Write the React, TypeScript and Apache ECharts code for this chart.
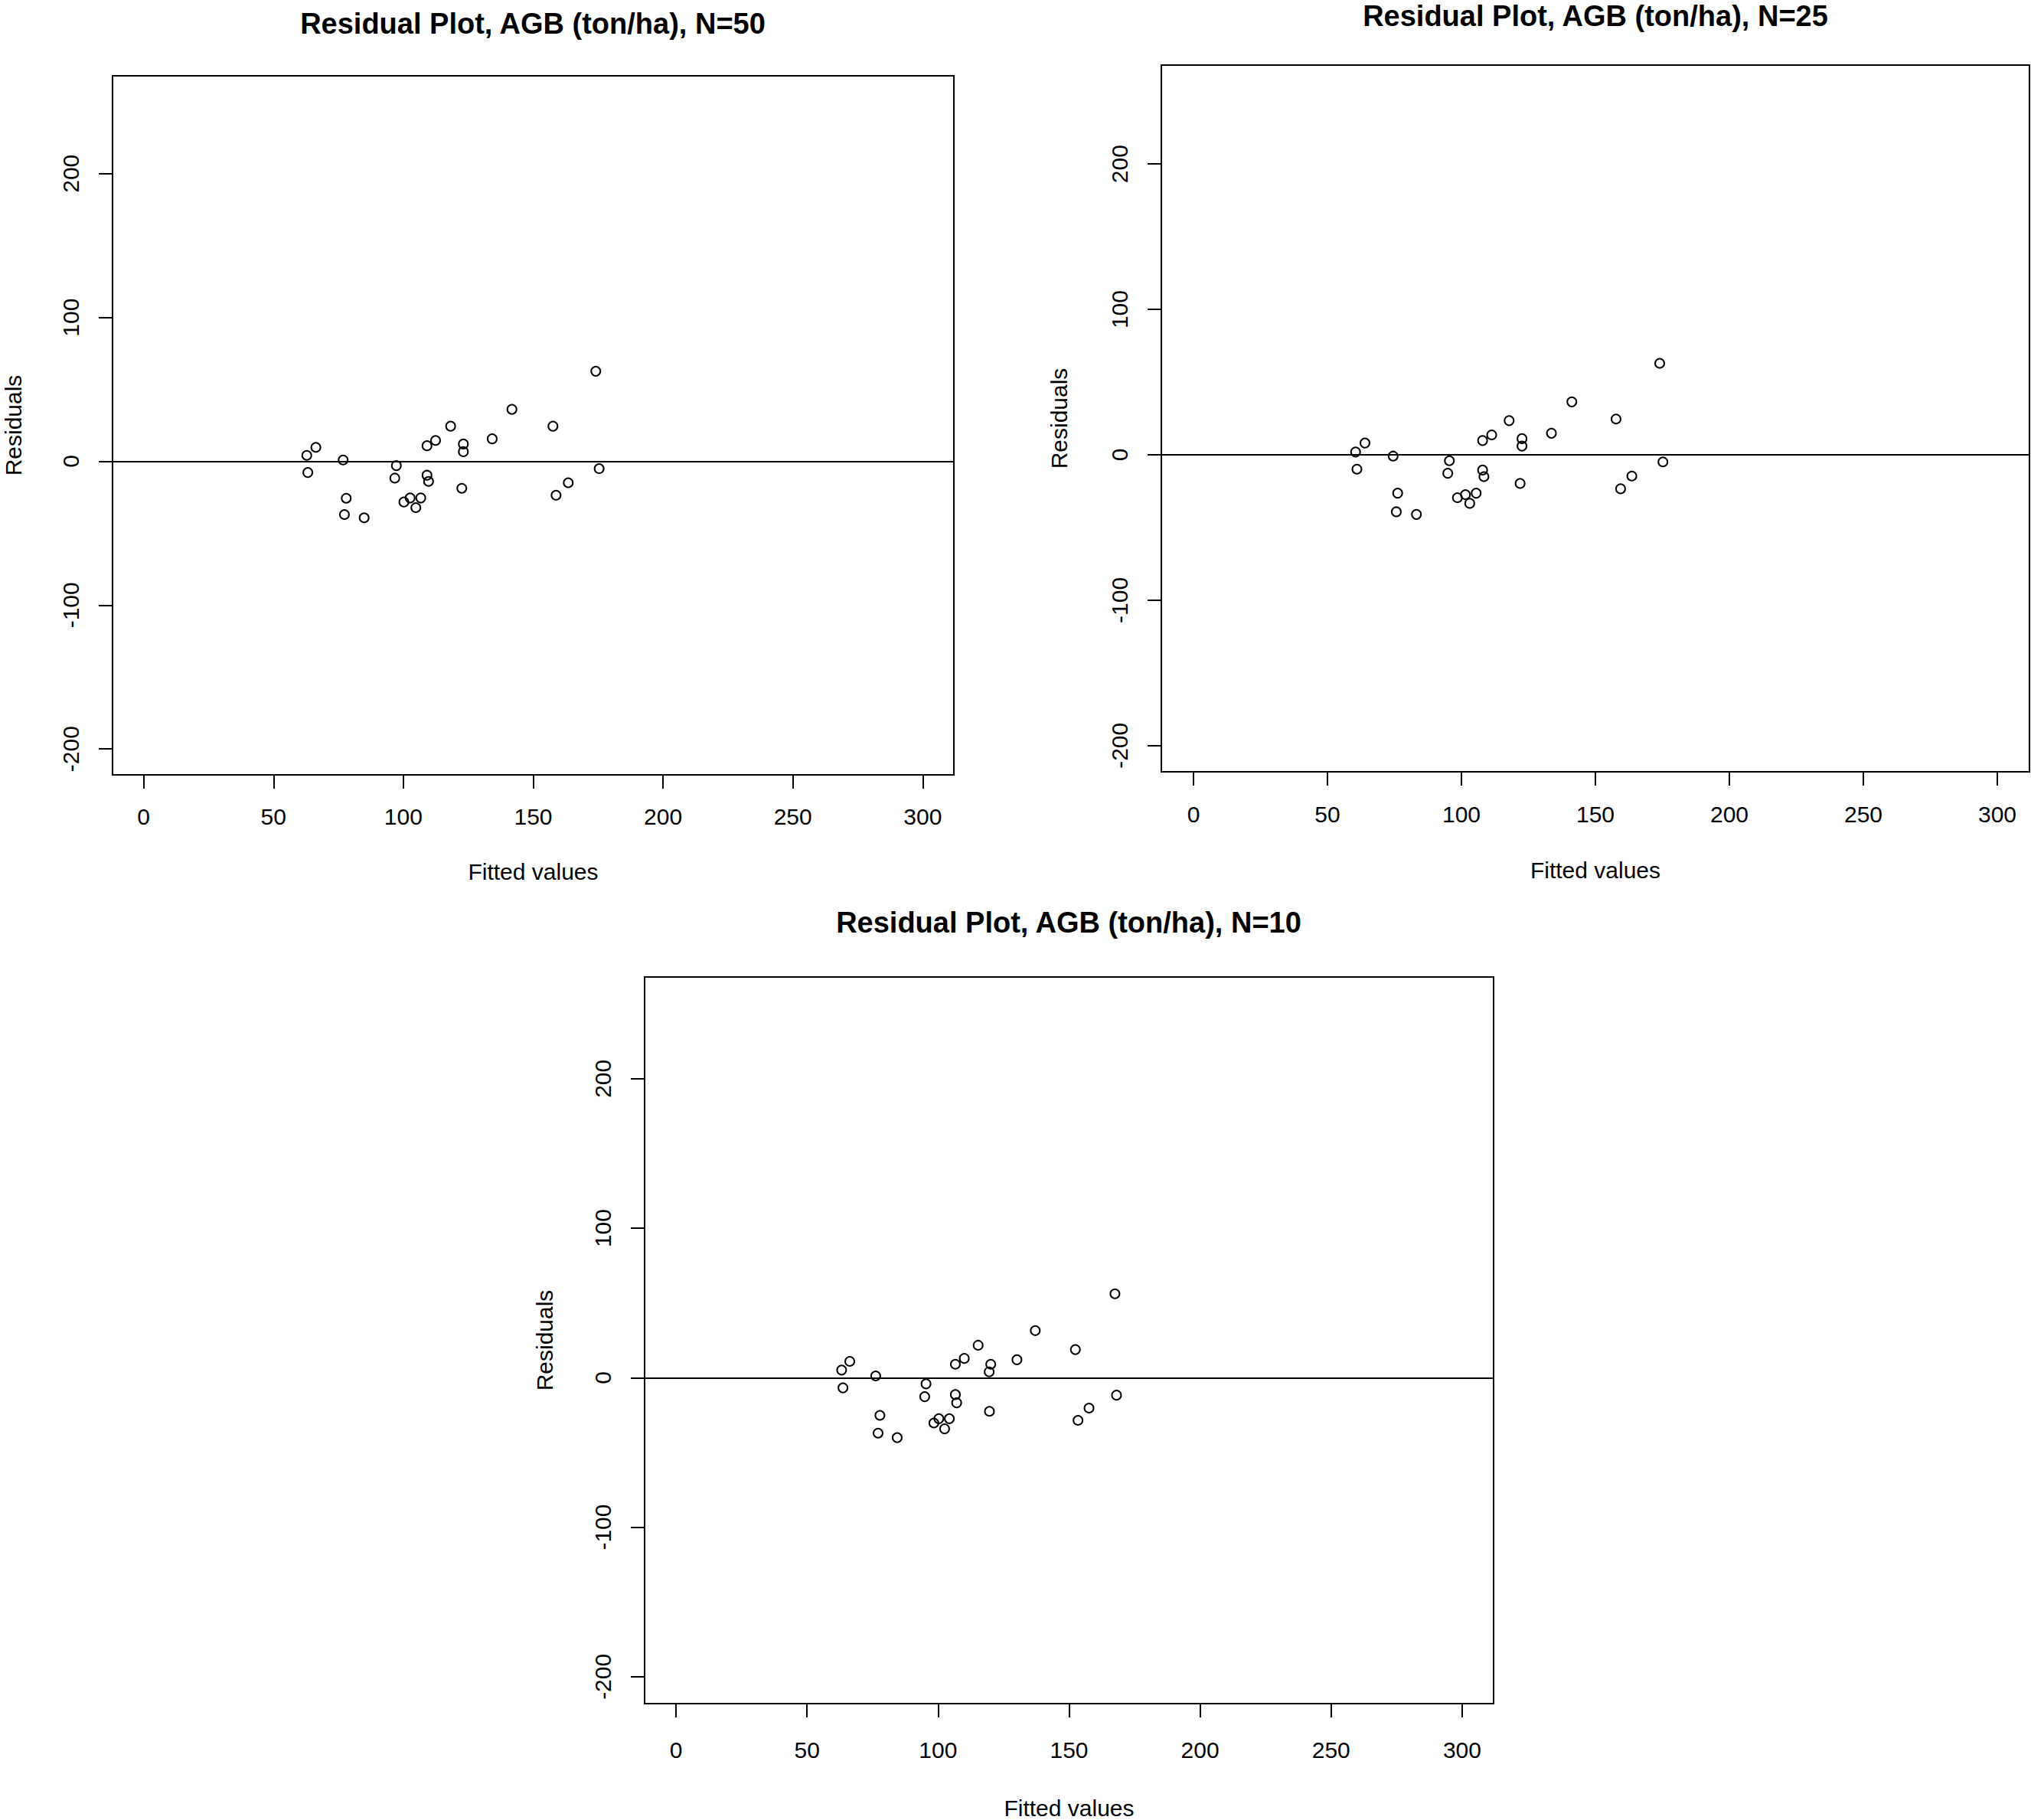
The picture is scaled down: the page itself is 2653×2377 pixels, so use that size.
import React, { useEffect, useRef } from "react";
import * as echarts from "echarts";

// ---- Data ----
const titles = [
  "Residual Plot, AGB (ton/ha), N=50",
  "Residual Plot, AGB (ton/ha), N=25",
  "Residual Plot, AGB (ton/ha), N=10",
];

const xTickValues = [0, 50, 100, 150, 200, 250, 300];
const yTickValues = [-200, -100, 0, 100, 200];

const fittedN50 = [174.1, 141.8, 118.2, 157.6, 134.2, 112.4, 109.1, 123.1, 123.1, 66.3, 62.8, 76.8, 63.2, 97.3, 96.7, 109.1, 109.7, 122.5, 175.4, 163.5, 158.8, 78.0, 77.3, 84.9, 102.6, 106.7, 100.2, 104.8];
const residN50 = [62.6, 36.1, 24.4, 24.4, 15.6, 14.5, 10.8, 12.0, 6.7, 9.7, 4.1, 0.9, -7.8, -3.0, -11.7, -9.7, -14.0, -18.8, -5.1, -14.9, -23.6, -25.7, -37.0, -39.3, -25.5, -25.5, -28.3, -32.2];

const fittedN25 = [174.0, 141.2, 117.8, 157.7, 133.6, 111.3, 107.9, 122.6, 122.6, 64.0, 60.5, 74.5, 61.0, 95.5, 94.9, 107.9, 108.4, 121.9, 175.2, 163.6, 159.4, 76.2, 75.7, 83.2, 101.5, 105.5, 98.5, 103.1];
const residN25 = [62.9, 36.4, 23.5, 24.6, 14.8, 13.7, 9.8, 11.1, 6.0, 8.1, 1.9, -0.9, -9.9, -4.1, -12.7, -10.5, -15.0, -19.7, -4.9, -14.6, -23.4, -26.4, -39.2, -41.0, -27.4, -26.4, -29.5, -33.4];

const fittedN10 = [167.5, 137.1, 115.3, 152.4, 130.1, 110.0, 106.6, 120.1, 119.5, 66.3, 63.2, 76.2, 63.7, 95.4, 94.9, 106.6, 107.1, 119.6, 168.1, 157.6, 153.4, 77.8, 77.1, 84.4, 100.3, 104.3, 98.4, 102.5];
const residN10 = [56.1, 31.5, 21.7, 18.8, 12.0, 12.9, 9.0, 9.0, 3.9, 10.9, 5.1, 1.2, -6.8, -4.1, -12.7, -11.3, -16.8, -22.5, -11.7, -20.3, -28.5, -25.2, -37.1, -40.1, -27.4, -27.4, -30.3, -34.2];

const fittedSets = [fittedN50, fittedN25, fittedN10];
const residSets = [residN50, residN25, residN10];

const X_MIN = -12;
const X_MAX = 312;
const Y_MIN = -218;
const Y_MAX = 268;

// ---- Layout ----
const W = 2653;
const H = 2377;
const FONT = "Liberation Sans, Arial, sans-serif";

const panels = [
  { left: 147, top: 99, width: 1099, height: 913, titleX: 696, titleTop: 12, xNameGap: 111, yNameGap: 115, xLabelMargin: 39 },
  { left: 1517, top: 85, width: 1134, height: 923, titleX: 2084, titleTop: 2, xNameGap: 113, yNameGap: 119, xLabelMargin: 40 },
  { left: 842, top: 1276, width: 1109, height: 958, titleX: 1396, titleTop: 1186, xNameGap: 121, yNameGap: 116, xLabelMargin: 45 },
];

export default function App() {
  const ref = useRef<HTMLDivElement>(null);

  useEffect(() => {
    if (!ref.current) return;
    const chart = echarts.init(ref.current, undefined, { renderer: "svg" });

    const grid = panels.map((p) => ({
      left: p.left,
      top: p.top,
      width: p.width,
      height: p.height,
      show: true,
      borderColor: "#000",
      borderWidth: 2,
      backgroundColor: "transparent",
      containLabel: false,
    }));

    const title = panels.map((p, i) => ({
      text: titles[i],
      left: p.titleX,
      top: p.titleTop,
      textAlign: "center",
      padding: 0,
      textStyle: {
        fontFamily: FONT,
        fontWeight: "bold",
        fontSize: 38,
        lineHeight: 38,
        color: "#000",
      },
    }));

    const xAxis = panels.map((p, i) => ({
      type: "value",
      gridIndex: i,
      min: X_MIN,
      max: X_MAX,
      name: "Fitted values",
      nameLocation: "middle",
      nameGap: p.xNameGap,
      nameTextStyle: { fontFamily: FONT, fontSize: 30, lineHeight: 30, color: "#000" },
      axisLine: { show: false, onZero: false },
      splitLine: { show: false },
      axisTick: {
        show: true,
        inside: false,
        length: 18,
        lineStyle: { color: "#000", width: 2 },
        customValues: xTickValues,
      },
      axisLabel: {
        customValues: xTickValues,
        margin: p.xLabelMargin,
        fontFamily: FONT,
        fontSize: 30,
        lineHeight: 30,
        color: "#000",
      },
    }));

    const yAxis = panels.map((p, i) => ({
      type: "value",
      gridIndex: i,
      min: Y_MIN,
      max: Y_MAX,
      name: "Residuals",
      nameLocation: "middle",
      nameGap: p.yNameGap,
      nameTextStyle: { fontFamily: FONT, fontSize: 30, lineHeight: 30, color: "#000" },
      axisLine: { show: false, onZero: false },
      splitLine: { show: false },
      axisTick: {
        show: true,
        inside: false,
        length: 18,
        lineStyle: { color: "#000", width: 2 },
        customValues: yTickValues,
      },
      axisLabel: {
        customValues: yTickValues,
        margin: 40,
        rotate: 90,
        fontFamily: FONT,
        fontSize: 30,
        lineHeight: 30,
        color: "#000",
      },
    }));

    const series = panels.map((_, i) => ({
      type: "scatter",
      xAxisIndex: i,
      yAxisIndex: i,
      symbol: "circle",
      symbolSize: 12,
      itemStyle: { color: "transparent", borderColor: "#000", borderWidth: 2, opacity: 1 },
      emphasis: { disabled: true },
      data: fittedSets[i].map((x, k) => [x, residSets[i][k]]),
      markLine: {
        silent: true,
        symbol: "none",
        label: { show: false },
        lineStyle: { color: "#000", width: 2, type: "solid" },
        data: [{ yAxis: 0 }],
      },
    }));

    chart.setOption({
      animation: false,
      backgroundColor: "#fff",
      title,
      grid,
      xAxis,
      yAxis,
      series,
    });

    return () => {
      chart.dispose();
    };
  }, []);

  return (
    <div
      ref={ref}
      style={{ position: "absolute", left: 0, top: 0, width: W, height: H }}
    />
  );
}
